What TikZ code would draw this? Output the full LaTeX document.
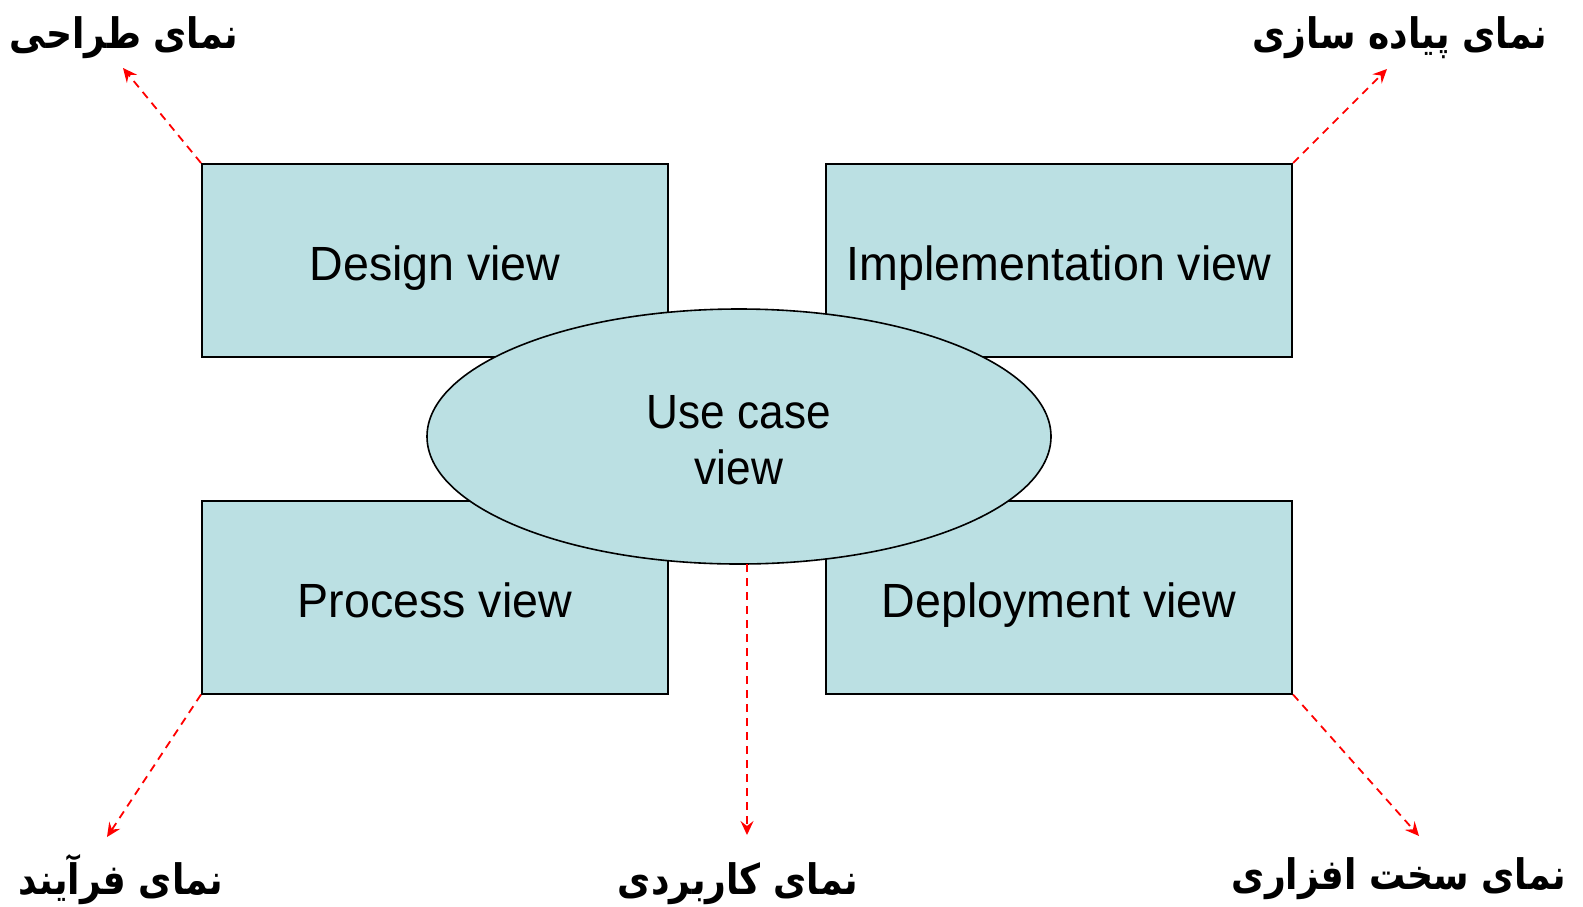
\documentclass[tikz,border=0pt]{standalone}
\usepackage{fontspec}
\usetikzlibrary{shapes.geometric,arrows.meta}
\setmainfont{Liberation Sans}
\newfontfamily\narrowfont[FakeStretch=0.92]{Liberation Sans}
\newfontfamily\boxfont[FakeStretch=0.97]{Liberation Sans}
\newfontfamily\arabicfont[Script=Arabic,FakeStretch=0.86]{DejaVu Sans}
\TeXXeTstate=1
\definecolor{boxfill}{RGB}{187,224,227}
\definecolor{arrowred}{RGB}{255,0,0}
\tikzset{
  viewbox/.style={draw=black, line width=1pt, fill=boxfill, rectangle,
    minimum width=233pt, minimum height=96.5pt, inner sep=0pt,
    text height=20.2pt, text depth=0pt,
    font=\boxfont\fontsize{24}{29}\selectfont},
  ucell/.style={draw=black, line width=0.8pt, fill=boxfill, ellipse,
    minimum width=312pt, minimum height=127.5pt, inner sep=0pt},
  uctextstyle/.style={inner sep=0pt, align=center,
    font=\narrowfont\fontsize{24}{28}\selectfont},
  falabel/.style={inner sep=0pt, font=\arabicfont\bfseries\fontsize{21}{25}\selectfont},
  redarrow/.style={draw=arrowred, line width=0.9pt, dash pattern=on 4pt off 3pt,
    -{Stealth[length=7pt,width=6.5pt,inset=2.5pt]}}
}
\begin{document}
\begin{tikzpicture}[x=0.5pt,y=-0.5pt]
\useasboundingbox (0,0) rectangle (1583,906);
\node[viewbox] (design) at (435,260.5) {Design view};
\node[viewbox] (impl) at (1059,260.5) {Implementation view};
\node[viewbox] (proc) at (435,597) {Process view};
\node[viewbox] (depl) at (1059,597) {Deployment view};
\node[ucell] (uc) at (739,436.5) {};
\node[uctextstyle] (uctext) at (739,440) {Use case\\view};

\node[falabel] (ldesign) at (124,38) {\beginR نمای طراحی\endR};
\node[falabel] (limpl) at (1400,38) {\beginR نمای پیاده سازی\endR};
\node[falabel] (lproc) at (121,880) {\beginR نمای فرآیند\endR};
\node[falabel] (luc) at (738,884) {\beginR نمای کاربردی\endR};
\node[falabel] (ldepl) at (1399,879) {\beginR نمای سخت افزاری\endR};

\coordinate (tdesign) at (123,68);
\coordinate (timpl) at (1387,69);
\coordinate (tproc) at (107,837);
\coordinate (tuc) at (747,835);
\coordinate (tdepl) at (1419,836);
\coordinate (suc) at (747,564);

\draw[redarrow] (design.north west) -- (tdesign);
\draw[redarrow] (impl.north east) -- (timpl);
\draw[redarrow] (proc.south west) -- (tproc);
\draw[redarrow] (suc) -- (tuc);
\draw[redarrow] (depl.south east) -- (tdepl);
\end{tikzpicture}
\end{document}
